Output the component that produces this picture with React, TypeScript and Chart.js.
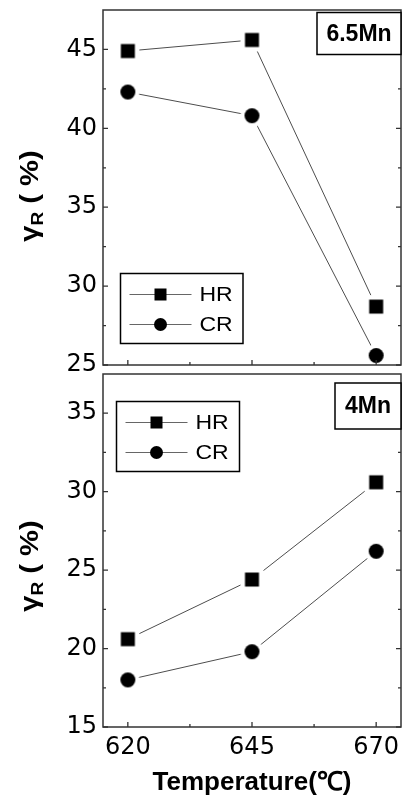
import { useEffect, useRef } from "react";
import { Chart, registerables } from "chart.js";

Chart.register(...registerables);

// ---------- data ----------
const temperatures = [620, 645, 670];
const seriesNames = ["HR", "CR"];
const hrMn65 = [44.9, 45.6, 28.7];
const crMn65 = [42.3, 40.8, 25.6];
const hrMn4 = [20.6, 24.4, 30.6];
const crMn4 = [18.0, 19.8, 26.2];
const yTicksMn65 = [25, 30, 35, 40, 45];
const yTicksMn4 = [15, 20, 25, 30, 35];
const yRangeMn65 = [25, 47.5];
const yRangeMn4 = [15, 37.5];
const xTicks = [620, 645, 670];
const xRange = [615, 675];
const panelLabels = ["6.5Mn", "4Mn"];
const xTitle = "Temperature(℃)";
const yTitleMain = "γ";
const yTitleSub = "R";
const yTitleTail = " ( %)";

// ---------- styles ----------
const FONT = "'Liberation Sans', Arial, sans-serif";
const TICK_FONT = "'DejaVu Sans', sans-serif";
const LINE = "#4d4d4d";
const FRAME = "#333333";

function makeMarker(shape: string, size: number, halo: number) {
  const dim = Math.ceil(size + 2 * halo) + 2;
  const c = document.createElement("canvas");
  c.width = dim;
  c.height = dim;
  const g = c.getContext("2d")!;
  const m = dim / 2;
  g.fillStyle = "#ffffff";
  if (shape === "rect") {
    g.fillRect(m - size / 2 - halo, m - size / 2 - halo, size + 2 * halo, size + 2 * halo);
  } else {
    g.beginPath();
    g.arc(m, m, size / 2 + halo, 0, Math.PI * 2);
    g.fill();
  }
  g.fillStyle = "#000000";
  if (shape === "rect") {
    g.fillRect(m - size / 2, m - size / 2, size, size);
  } else {
    g.beginPath();
    g.arc(m, m, size / 2, 0, Math.PI * 2);
    g.fill();
  }
  return c;
}

const decorPlugin = {
  id: "decor",
  afterDraw(chart: any, _args: any, o: any) {
    const { ctx, chartArea: a } = chart;
    const xs = chart.scales.x;
    const ys = chart.scales.y;
    ctx.save();
    // tick marks (inside)
    ctx.strokeStyle = FRAME;
    ctx.lineWidth = 1.3;
    ctx.beginPath();
    const yt: number[] = o.yTicks;
    const ystep = yt[1] - yt[0];
    for (const v of yt) {
      const p = ys.getPixelForValue(v);
      ctx.moveTo(a.left, p);
      ctx.lineTo(a.left + 5, p);
      ctx.moveTo(a.right, p);
      ctx.lineTo(a.right - 5, p);
      const mv = v + ystep / 2;
      if (mv < ys.max) {
        const q = ys.getPixelForValue(mv);
        ctx.moveTo(a.left, q);
        ctx.lineTo(a.left + 3, q);
        ctx.moveTo(a.right, q);
        ctx.lineTo(a.right - 3, q);
      }
    }
    for (let i = 0; i < xTicks.length; i++) {
      const p = xs.getPixelForValue(xTicks[i]);
      ctx.moveTo(p, a.bottom);
      ctx.lineTo(p, a.bottom - 5);
      if (i < xTicks.length - 1) {
        const q = xs.getPixelForValue((xTicks[i] + xTicks[i + 1]) / 2);
        ctx.moveTo(q, a.bottom);
        ctx.lineTo(q, a.bottom - 3);
      }
    }
    ctx.stroke();
    // frame
    ctx.lineWidth = 1.5;
    ctx.strokeRect(a.left, a.top, a.right - a.left, a.bottom - a.top);

    // panel label box
    const lb = o.labelBox;
    ctx.fillStyle = "#ffffff";
    ctx.fillRect(lb[0], lb[1], lb[2] - lb[0], lb[3] - lb[1]);
    ctx.strokeStyle = "#000000";
    ctx.lineWidth = 1.5;
    ctx.strokeRect(lb[0], lb[1], lb[2] - lb[0], lb[3] - lb[1]);
    ctx.fillStyle = "#000000";
    ctx.font = `bold 23px ${FONT}`;
    ctx.textAlign = "center";
    ctx.textBaseline = "middle";
    ctx.fillText(o.label, (lb[0] + lb[2]) / 2, (lb[1] + lb[3]) / 2 + 1);

    // legend
    const lg = o.legendBox;
    ctx.fillStyle = "#ffffff";
    ctx.fillRect(lg[0], lg[1], lg[2] - lg[0], lg[3] - lg[1]);
    ctx.strokeStyle = "#000000";
    ctx.lineWidth = 1.5;
    ctx.strokeRect(lg[0], lg[1], lg[2] - lg[0], lg[3] - lg[1]);
    const rows = [21, 51];
    chart.data.datasets.forEach((ds: any, i: number) => {
      const ry = lg[1] + rows[i];
      ctx.strokeStyle = "#666666";
      ctx.lineWidth = 1;
      ctx.beginPath();
      ctx.moveTo(lg[0] + 9, ry);
      ctx.lineTo(lg[0] + 71, ry);
      ctx.stroke();
      ctx.fillStyle = "#000000";
      const mx = lg[0] + 40;
      if (ds.shape === "rect") {
        ctx.fillRect(mx - 6, ry - 6, 12, 12);
      } else {
        ctx.beginPath();
        ctx.arc(mx, ry, 6.5, 0, Math.PI * 2);
        ctx.fill();
      }
      ctx.save();
      ctx.translate(lg[0] + 79, ry + 1);
      ctx.scale(1.15, 1);
      ctx.font = `20px ${FONT}`;
      ctx.textAlign = "left";
      ctx.textBaseline = "middle";
      ctx.fillText(ds.label, 0, 0);
      ctx.restore();
    });

    // y axis title (rotated, with subscript)
    ctx.save();
    ctx.translate(o.titleX, o.titleY);
    ctx.rotate(-Math.PI / 2);
    ctx.scale(1.12, 1);
    ctx.fillStyle = "#000000";
    ctx.textAlign = "left";
    ctx.textBaseline = "alphabetic";
    const mainFont = `bold 26px ${FONT}`;
    const subFont = `bold 17px ${FONT}`;
    ctx.font = mainFont;
    const w1 = ctx.measureText(yTitleMain).width;
    const w3 = ctx.measureText(yTitleTail).width;
    ctx.font = subFont;
    const w2 = ctx.measureText(yTitleSub).width;
    let px = -(w1 + w2 + w3) / 2;
    ctx.font = mainFont;
    ctx.fillText(yTitleMain, px, 0);
    px += w1;
    ctx.font = subFont;
    ctx.fillText(yTitleSub, px, 5);
    px += w2;
    ctx.font = mainFont;
    ctx.fillText(yTitleTail, px, 0);
    ctx.restore();

    ctx.restore();
  },
};

type PanelCfg = {
  hr: number[];
  cr: number[];
  yTicks: number[];
  yRange: number[];
  label: string;
  showX: boolean;
  height: number;
  padTop: number;
  padBottom: number;
  labelBox: number[];
  legendBox: number[];
  titleY: number;
};

function buildConfig(p: PanelCfg): any {
  const sq = makeMarker("rect", 14, 4.5);
  const ci = makeMarker("circle", 15, 4);
  const tickFont = { family: TICK_FONT, size: 24 };
  return {
    type: "line",
    data: {
      datasets: [
        {
          label: seriesNames[0],
          shape: "rect",
          data: temperatures.map((t, i) => ({ x: t, y: p.hr[i] })),
          borderColor: LINE,
          borderWidth: 1,
          tension: 0,
          pointStyle: sq,
          pointRadius: 7,
          backgroundColor: "#000",
        },
        {
          label: seriesNames[1],
          shape: "circle",
          data: temperatures.map((t, i) => ({ x: t, y: p.cr[i] })),
          borderColor: LINE,
          borderWidth: 1,
          tension: 0,
          pointStyle: ci,
          pointRadius: 7,
          backgroundColor: "#000",
        },
      ],
    },
    options: {
      animation: false,
      responsive: false,
      events: [],
      layout: { padding: { top: p.padTop, bottom: p.padBottom, left: 0, right: 2 } },
      scales: {
        x: {
          type: "linear",
          min: xRange[0],
          max: xRange[1],
          display: p.showX,
          afterBuildTicks: (s: any) => {
            s.ticks = xTicks.map((v) => ({ value: v }));
          },
          afterFit: (s: any) => {
            s.height = p.showX ? 71 : 0;
            s.paddingLeft = 0;
            s.paddingRight = 0;
          },
          grid: { display: false, drawTicks: false },
          border: { display: false },
          ticks: { font: tickFont, color: "#000", padding: 6, maxRotation: 0, autoSkip: false },
          title: {
            display: p.showX,
            text: xTitle,
            color: "#000",
            font: { family: FONT, size: 26, weight: "bold", lineHeight: 1.2 },
            padding: { top: 0, bottom: 0 },
          },
        },
        y: {
          type: "linear",
          min: p.yRange[0],
          max: p.yRange[1],
          afterBuildTicks: (s: any) => {
            s.ticks = p.yTicks.map((v) => ({ value: v }));
          },
          afterFit: (s: any) => {
            s.width = 103;
            s.paddingTop = 0;
            s.paddingBottom = 0;
          },
          grid: { display: false, drawTicks: false },
          border: { display: false },
          ticks: { font: tickFont, color: "#000", padding: 6 },
        },
      },
      plugins: {
        legend: { display: false },
        tooltip: { enabled: false },
        decor: {
          yTicks: p.yTicks,
          label: p.label,
          labelBox: p.labelBox,
          legendBox: p.legendBox,
          titleX: 38,
          titleY: p.titleY,
        },
      },
    },
    plugins: [decorPlugin],
  };
}

const topPanel: PanelCfg = {
  hr: hrMn65,
  cr: crMn65,
  yTicks: yTicksMn65,
  yRange: yRangeMn65,
  label: panelLabels[0],
  showX: false,
  height: 380,
  padTop: 10,
  padBottom: 15,
  labelBox: [317, 12.5, 401, 54.5],
  legendBox: [120.5, 273.5, 243, 343.5],
  titleY: 196,
};

const bottomPanel: PanelCfg = {
  hr: hrMn4,
  cr: crMn4,
  yTicks: yTicksMn4,
  yRange: yRangeMn4,
  label: panelLabels[1],
  showX: true,
  height: 432,
  padTop: 6,
  padBottom: 0,
  labelBox: [335, 17, 401, 63],
  legendBox: [116.5, 35.5, 239.5, 105.5],
  titleY: 200,
};

function Panel({ cfg, top }: { cfg: PanelCfg; top: number }) {
  const ref = useRef<HTMLCanvasElement>(null);
  useEffect(() => {
    const chart = new Chart(ref.current!, buildConfig(cfg));
    return () => chart.destroy();
  }, [cfg]);
  return (
    <canvas
      ref={ref}
      width={409}
      height={cfg.height}
      style={{ position: "absolute", left: 0, top, width: 409, height: cfg.height }}
    />
  );
}

export default function App() {
  return (
    <div style={{ position: "absolute", left: 0, top: 0, width: 409, height: 798, background: "#fff" }}>
      <Panel cfg={topPanel} top={0} />
      <Panel cfg={bottomPanel} top={366} />
    </div>
  );
}
